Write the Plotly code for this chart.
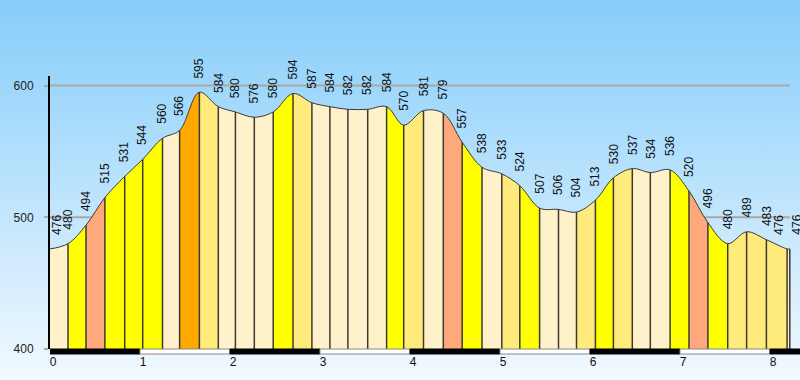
import base64
import plotly.graph_objects as go

# ---- data ----
dist_km = [0.00, 0.20, 0.40, 0.61, 0.83, 1.03, 1.25, 1.44, 1.66, 1.87,
           2.06, 2.27, 2.48, 2.70, 2.91, 3.11, 3.31, 3.53, 3.74, 3.93,
           4.15, 4.37, 4.58, 4.80, 5.02, 5.22, 5.44, 5.65, 5.85, 6.06,
           6.26, 6.47, 6.67, 6.89, 7.10, 7.31, 7.53, 7.74, 7.96, 8.19, 8.22]
elev_m = [476, 480, 494, 515, 531, 544, 560, 566, 595, 584,
          580, 576, 580, 594, 587, 584, 582, 582, 584, 570,
          581, 579, 557, 538, 533, 524, 507, 506, 504, 513,
          530, 537, 534, 536, 520, 496, 480, 489, 483, 476, 476]
# gradient class of each segment between consecutive points
seg_class = ["C", "Y", "S", "Y", "Y", "Y", "C", "O", "L", "C",
             "C", "C", "Y", "L", "C", "C", "C", "C", "Y", "L",
             "C", "S", "Y", "C", "L", "Y", "C", "C", "L", "Y",
             "L", "C", "C", "Y", "S", "Y", "L", "L", "L", "C"]
x_ticks = [0, 1, 2, 3, 4, 5, 6, 7, 8]
y_ticks = [400, 500, 600]

class_color = {"C": "#FFF1C9", "Y": "#FFFF00", "S": "#FFA87C",
               "O": "#FFA800", "L": "#FFEA7C"}

X_MAX = 8.3333
Y_MIN, Y_MAX = 400, 607.3

x0, xN = dist_km[0], dist_km[-1]
span = xN - x0
cscale = []
for i, cls in enumerate(seg_class):
    a = (dist_km[i] - x0) / span
    b = (dist_km[i + 1] - x0) / span
    col = class_color[cls]
    cscale.append([a, col])
    cscale.append([b, col])
cscale[0][0] = 0.0
cscale[-1][0] = 1.0

fig = go.Figure()

# filled profile with hard-stop horizontal gradient
fig.add_trace(go.Scatter(
    x=dist_km, y=elev_m, mode="lines",
    line=dict(shape="spline", color="#3a3a3a", width=1),
    fill="tozeroy",
    fillgradient=dict(type="horizontal", colorscale=cscale, start=x0, stop=xN),
    hoverinfo="skip", showlegend=False,
))

# vertical separators
vx, vy = [], []
for d, e in zip(dist_km[1:], elev_m[1:]):
    vx += [d, d, None]
    vy += [Y_MIN, e, None]
fig.add_trace(go.Scatter(
    x=vx, y=vy, mode="lines",
    line=dict(color="#3c3a30", width=1.5),
    hoverinfo="skip", showlegend=False,
))

# labels
n = len(elev_m)
for i, (d, e) in enumerate(zip(dist_km, elev_m)):
    xs = 0
    if i == 0:
        xs = 7
    elif i == n - 2:
        xs = -8
    elif i == n - 1:
        xs = 7
    fig.add_annotation(
        x=d, y=e, text=str(e), textangle=-90, showarrow=False,
        xanchor="center", yanchor="bottom", yshift=12, xshift=xs,
        font=dict(family="Arial, Liberation Sans", size=12, color="#111"),
    )

shapes = []
# horizontal grid lines
for v in y_ticks[1:]:
    shapes.append(dict(type="line", xref="x", yref="y", x0=x0, x1=xN,
                       y0=v, y1=v, line=dict(color="#A6A8AA", width=2),
                       layer="below"))
# alternating distance bar
for k in x_ticks:
    black = (k % 2 == 0)
    shapes.append(dict(
        type="rect", xref="x", yref="paper", x0=k, x1=k + 1,
        ysizemode="pixel", yanchor=0, y0=0, y1=-5,
        fillcolor="black" if black else "white",
        line=dict(color="black" if black else "#888", width=1),
        layer="above"))

svg = ('<svg xmlns="http://www.w3.org/2000/svg" width="800" height="380" '
       'viewBox="0 0 800 380" preserveAspectRatio="none"><defs>'
       '<linearGradient id="g" x1="0" y1="0" x2="0" y2="1">'
       '<stop offset="0" stop-color="#86CDFA"/>'
       '<stop offset="1" stop-color="#F2F9FF"/></linearGradient></defs>'
       '<rect width="800" height="380" fill="url(#g)"/></svg>')
src = "data:image/svg+xml;base64," + base64.b64encode(svg.encode()).decode()

L, R, T, B = 50, 0, 76, 31
pw, ph = 800 - L - R, 380 - T - B

fig.update_layout(
    width=800, height=380,
    margin=dict(l=L, r=R, t=T, b=B, pad=0),
    paper_bgcolor="rgba(0,0,0,0)", plot_bgcolor="rgba(0,0,0,0)",
    shapes=shapes,
    images=[dict(source=src, xref="paper", yref="paper",
                 x=-L / pw, y=1 + T / ph, sizex=800 / pw, sizey=380 / ph,
                 xanchor="left", yanchor="top", sizing="stretch",
                 layer="below")],
    xaxis=dict(range=[0, X_MAX], tickvals=x_ticks, showgrid=False,
               zeroline=False, showline=False, ticks="",
               ticklabelshift=3, ticklabelstandoff=4,
               tickfont=dict(family="Arial, Liberation Sans", size=12, color="#111"),
               fixedrange=True),
    yaxis=dict(range=[Y_MIN, Y_MAX], tickvals=y_ticks, showgrid=False,
               zeroline=False, showline=True, linecolor="black", linewidth=2,
               ticks="outside", ticklen=4, tickcolor="#A6A8AA", tickwidth=2,
               ticklabelstandoff=8,
               tickfont=dict(family="Arial, Liberation Sans", size=12, color="#222"),
               fixedrange=True),
    showlegend=False,
)

fig.write_html(
    "out.html",
    config={"displayModeBar": False},
    post_script="document.body.style.margin='0';document.body.style.overflow='hidden';",
)
